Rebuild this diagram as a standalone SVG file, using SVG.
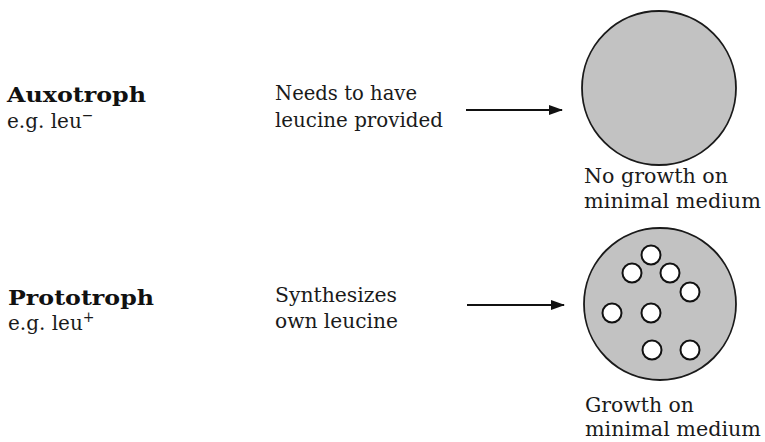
<svg xmlns="http://www.w3.org/2000/svg" width="765" height="442" viewBox="0 0 765 442">
<style>
.t{font-family:"DejaVu Serif","Liberation Serif",serif;font-size:20px;fill:#1a1a1a}
.b{font-family:"DejaVu Serif","Liberation Serif",serif;font-size:21px;font-weight:bold;fill:#111}
.plate{fill:#c2c2c2;stroke:#1a1a1a;stroke-width:1.8}
.col{fill:#fff;stroke:#111;stroke-width:2}
.arr{stroke:#111;stroke-width:2;fill:none}
</style>
<defs>
<marker id="ah" markerWidth="14" markerHeight="10" refX="13" refY="5" orient="auto" markerUnits="userSpaceOnUse">
<path d="M0,0 L14,5 L0,10 Z" fill="#111"/>
</marker>
</defs>
<rect width="765" height="442" fill="#fff"/>
<g id="auxotroph">
<text class="b" x="7" y="102" textLength="139" lengthAdjust="spacingAndGlyphs">Auxotroph</text>
<text class="t" x="7" y="128">e.g. leu<tspan font-size="14" dy="-8">−</tspan></text>
</g>
<g id="needs">
<text class="t" x="275" y="100" textLength="142" lengthAdjust="spacingAndGlyphs">Needs to have</text>
<text class="t" x="275" y="127" textLength="168" lengthAdjust="spacingAndGlyphs">leucine provided</text>
</g>
<g id="plate-no-growth">
<circle class="plate" cx="659" cy="88" r="77"/>
<text class="t" x="584" y="183" textLength="144" lengthAdjust="spacingAndGlyphs">No growth on</text>
<text class="t" x="584" y="208" textLength="177" lengthAdjust="spacingAndGlyphs">minimal medium</text>
</g>
<g id="prototroph">
<text class="b" x="8" y="305" textLength="146" lengthAdjust="spacingAndGlyphs">Prototroph</text>
<text class="t" x="8" y="330">e.g. leu<tspan font-size="14" dy="-8">+</tspan></text>
</g>
<g id="synth">
<text class="t" x="275" y="302" textLength="122" lengthAdjust="spacingAndGlyphs">Synthesizes</text>
<text class="t" x="275" y="328" textLength="123" lengthAdjust="spacingAndGlyphs">own leucine</text>
</g>
<g id="plate-growth">
<circle class="plate" cx="660" cy="304" r="76"/>
<circle class="col" cx="651" cy="255" r="9.5"/>
<circle class="col" cx="632" cy="273" r="9.5"/>
<circle class="col" cx="670" cy="273" r="9.5"/>
<circle class="col" cx="690" cy="292" r="9.5"/>
<circle class="col" cx="612" cy="313" r="9.5"/>
<circle class="col" cx="651" cy="313" r="9.5"/>
<circle class="col" cx="652" cy="350" r="9.5"/>
<circle class="col" cx="690" cy="350" r="9.5"/>
<text class="t" x="585" y="412" textLength="109" lengthAdjust="spacingAndGlyphs">Growth on</text>
<text class="t" x="585" y="436" textLength="176" lengthAdjust="spacingAndGlyphs">minimal medium</text>
</g>
<g id="connectors">
<line class="arr" x1="466" y1="110" x2="562" y2="110" marker-end="url(#ah)"/>
<line class="arr" x1="467" y1="305" x2="564" y2="305" marker-end="url(#ah)"/>
</g>
</svg>
